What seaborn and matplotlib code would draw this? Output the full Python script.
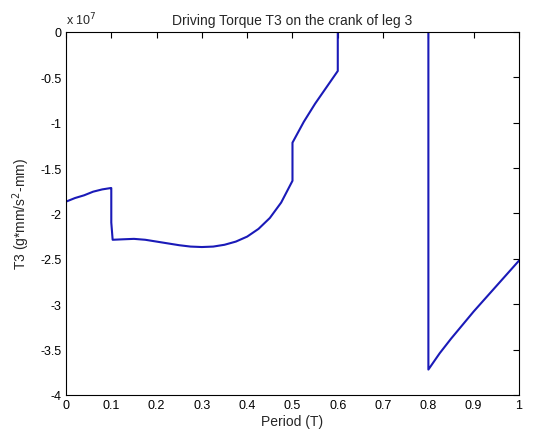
import numpy as np
import pandas as pd
import matplotlib
matplotlib.use("Agg")
import matplotlib.pyplot as plt
import seaborn as sns
from matplotlib.ticker import FuncFormatter

# period (T) and torque T3 (in units of 1e7 g*mm/s^2-mm)
period = [0.0, 0.0, 0.02, 0.04, 0.06, 0.08, 0.099, 0.1, 0.1, 0.103,
          0.125, 0.15, 0.175, 0.2, 0.225, 0.25, 0.275, 0.3, 0.325, 0.35,
          0.375, 0.4, 0.425, 0.45, 0.475, 0.5,
          0.5, 0.525, 0.55, 0.575, 0.6, 0.6, 0.8, 0.8,
          0.825, 0.85, 0.875, 0.9, 0.925, 0.95, 0.975, 1.0]
torque = [-2.45, -1.87, -1.83, -1.80, -1.76, -1.735, -1.72, -1.72, -2.10, -2.29,
          -2.285, -2.28, -2.29, -2.31, -2.33, -2.35, -2.365, -2.37, -2.365, -2.345,
          -2.31, -2.255, -2.17, -2.05, -1.88, -1.64,
          -1.22, -0.99, -0.79, -0.61, -0.43, 0.0, 0.0, -3.72,
          -3.54, -3.38, -3.23, -3.08, -2.94, -2.80, -2.66, -2.52]

x_ticks = [0, 0.1, 0.2, 0.3, 0.4, 0.5, 0.6, 0.7, 0.8, 0.9, 1]
y_ticks = [0, -0.5, -1, -1.5, -2, -2.5, -3, -3.5, -4]

df = pd.DataFrame({"Period": period, "T3": np.array(torque) * 1e7})

sns.set_style("white")
plt.rcParams["font.family"] = ["Liberation Sans", "DejaVu Sans"]
plt.rcParams["axes.unicode_minus"] = False

fig = plt.figure(figsize=(5.33, 4.39), dpi=100)
ax = fig.add_axes([0.1238, 0.098, 0.8499, 0.8270])

sns.lineplot(data=df, x="Period", y="T3", estimator=None, sort=False,
             color="#1a1ab8", linewidth=1.5, ax=ax)

ax.set_xlim(0, 1)
ax.set_ylim(-4e7, 0)
ax.set_xticks(x_ticks)
ax.set_yticks([v * 1e7 for v in y_ticks])
ax.xaxis.set_major_formatter(FuncFormatter(lambda v, p: f"{v:g}"))
ax.yaxis.set_major_formatter(FuncFormatter(lambda v, p: f"{v / 1e7:g}"))

for s in ax.spines.values():
    s.set_visible(True)
    s.set_color("black")
    s.set_linewidth(0.8)
ax.tick_params(direction="in", length=4, width=0.8, top=True, right=True,
               labelsize=9, colors="black", pad=3)

ax.set_title("Driving Torque T3 on the crank of leg 3", fontsize=10, pad=6)
ax.set_xlabel("Period (T)", fontsize=10, labelpad=2)
ax.set_ylabel("T3 (g*mm/s$^2$-mm)", fontsize=10, labelpad=6)
ax.text(0.0, 1.012, "x 10$^7$", transform=ax.transAxes, fontsize=9,
        ha="left", va="bottom")

fig.savefig("out.png", dpi=100, facecolor="white")
